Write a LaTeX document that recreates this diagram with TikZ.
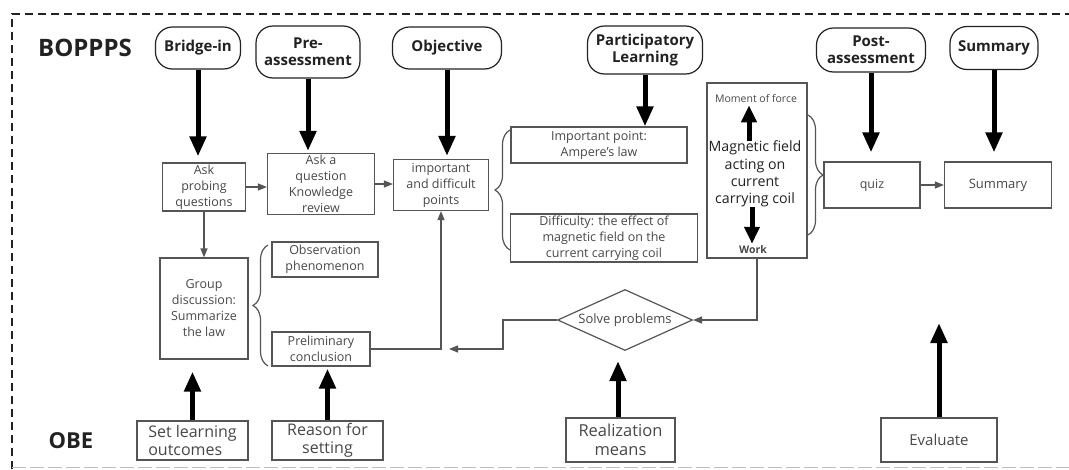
\documentclass[tikz,border=0pt]{standalone}
\usepackage{fontspec}
\setmainfont{Open Sans}
\usetikzlibrary{arrows.meta,shapes.geometric,decorations.pathreplacing,calc}
\definecolor{linegray}{HTML}{555555}
\definecolor{textgray}{HTML}{484848}
\definecolor{hdrtext}{HTML}{222222}
\begin{document}
\begin{tikzpicture}[x=1pt,y=-1pt,
  hdr/.style={draw=hdrtext, line width=1.2pt, rounded corners=17pt, font=\fontsize{15}{17}\selectfont\bfseries, text=hdrtext, align=center, inner sep=0pt},
  box/.style={draw=linegray, line width=1.2pt, align=center, inner sep=0pt, text=textgray, font=\fontsize{12.5}{16}\selectfont},
  bigbox/.style={box, font=\fontsize{16}{18}\selectfont},
  thk/.style={line width=5pt, -{Triangle[length=20pt,width=16pt]}, black},
  thn/.style={draw=linegray, line width=1.2pt, -{Triangle[length=9pt,width=7pt]}},
  brc/.style={draw=linegray, line width=1.2pt, decorate, decoration={brace, amplitude=15pt}},
  lbl/.style={font=\fontsize{24}{26}\selectfont\bfseries, text=hdrtext, inner sep=0pt}
]
\useasboundingbox (0,0) rectangle (1069,469);
\fill[white] (0,0) rectangle (1069,469);
% dashed frame
\draw[hdrtext, line width=1.3pt, dash pattern=on 8pt off 5pt] (12,469) -- (12,14) -- (1069,14);
\draw[black!25, line width=1pt, dash pattern=on 14pt off 4pt] (12,467) -- (1069,467);

% labels
\node[lbl] (bopp) at (85,48) {BOPPPS};
\node[lbl, font=\fontsize{22}{24}\selectfont\bfseries] (obe) at (71,441) {OBE};

% header nodes
\node[hdr, minimum width=85pt, minimum height=42pt] (hB) at (198,48) {Bridge-in};
\node[hdr, minimum width=104pt, minimum height=52pt] (hP) at (308,52) {Pre-\\assessment};
\node[hdr, minimum width=109pt, minimum height=42pt] (hO) at (447,48) {Objective};
\node[hdr, minimum width=115pt, minimum height=48pt] (hL) at (645,50) {Participatory\\Learning};
\node[hdr, minimum width=109pt, minimum height=44pt] (hPo) at (871,50) {Post-\\assessment};
\node[hdr, minimum width=88pt, minimum height=43pt] (hS) at (994,48) {Summary};

% process boxes
\node[box, minimum width=83pt, minimum height=48pt] (probe) at (204,187) {Ask\\probing\\questions};
\node[box, minimum width=107pt, minimum height=61pt] (ask) at (321,184) {Ask a\\question\\Knowledge\\review};
\node[box, minimum width=95pt, minimum height=51pt] (impd) at (441,185) {important\\and difficult\\points};
\node[box, minimum width=176pt, minimum height=36pt] (imp) at (599,145) {Important point:\\Ampere's law};
\node[box, minimum width=187pt, minimum height=48pt] (diff) at (604,238) {Difficulty: the effect of\\magnetic field on the\\current carrying coil};
\node[box, minimum width=100pt, minimum height=175pt] (big) at (757,170.5) {};
\node[text=textgray, inner sep=0pt, font=\fontsize{10.5}{12}\selectfont] (moment) at (756,99) {Moment of force};
\node[text=hdrtext, inner sep=0pt, align=center, font=\fontsize{14.2}{17.3}\selectfont] (mag) at (755,174) {Magnetic field\\acting on\\current\\carrying coil};
\node[text=textgray, inner sep=0pt, font=\fontsize{10.5}{12}\selectfont\bfseries] (work) at (753,250) {Work};
\node[box, minimum width=96pt, minimum height=46pt] (quiz) at (872,185) {quiz};
\node[box, minimum width=107pt, minimum height=46pt, font=\fontsize{13}{16}\selectfont] (summ) at (998,185) {Summary};
\node[box, minimum width=88pt, minimum height=101pt] (group) at (204,308.5) {Group\\discussion:\\Summarize\\the law};
\node[box, minimum width=106pt, minimum height=35pt] (obs) at (325,259.5) {Observation\\phenomenon};
\node[box, minimum width=98pt, minimum height=34pt] (prelim) at (321,349) {Preliminary\\conclusion};
\node[diamond, draw=linegray, line width=1.2pt, minimum width=135pt, minimum height=61pt, inner sep=0pt] (solve) at (625,320) {};
\node[text=textgray, inner sep=0pt, font=\fontsize{13}{15}\selectfont] (solvet) at (625,320) {Solve problems};
\node[bigbox, minimum width=109pt, minimum height=44pt, font=\fontsize{16.5}{19}\selectfont] (real) at (620.5,440) {Realization\\means};
\node[bigbox, minimum width=111pt, minimum height=39pt, align=left] (setlo) at (192.5,440.5) {Set learning\\outcomes};
\node[bigbox, minimum width=111pt, minimum height=39pt] (reason) at (327.5,440.5) {Reason for\\setting};
\node[bigbox, minimum width=116pt, minimum height=44pt, font=\fontsize{15}{18}\selectfont] (eval) at (939,440) {Evaluate};
\coordinate (evalend) at (939,323);
\coordinate (leftend) at (449,349);

% thick arrows from headers
\draw[thk, shorten >=6pt] (hB.south) -- (hB.south |- probe.north);
\draw[thk, shorten >=2pt] (hP.south) -- (hP.south |- ask.north);
\draw[thk, shorten >=3pt] (hO.south) -- (hO.south |- impd.north);
\draw[thk] (hL.south) -- (hL.south |- imp.north);
\draw[thk, shorten >=9pt] (hPo.south) -- (hPo.south |- quiz.north);
\draw[thk, shorten >=9pt] (hS.south) -- (hS.south |- summ.north);

% thick arrows from OBE row
\draw[thk, shorten >=12pt] (setlo.north) -- (setlo.north |- group.south);
\draw[thk, shorten >=2pt] (reason.north) -- (reason.north |- prelim.south);
\draw[thk, shorten >=10pt] ([xshift=-2.5pt]real.north) -- ([xshift=-2.5pt]real.north |- solve.south);
\draw[thk] (eval.north) -- (evalend);

% arrows inside big box
\draw[thk, -{Triangle[length=17pt,width=15pt]}, shorten >=2pt] ([xshift=-6pt]mag.north) -- ([xshift=-6pt]mag.north |- moment.south);
\draw[thk, -{Triangle[length=17pt,width=15pt]}, shorten >=2pt] ([xshift=-3pt]mag.south) -- ([xshift=-3pt]mag.south |- work.north);

% thin connectors
\draw[thn] (probe.east) -- (probe.east -| ask.west);
\draw[thn] (ask.east) -- (ask.east -| impd.west);
\draw[thn] (probe.south) -- (group.north);
\draw[thn] (prelim.east) -| (impd.south);
\draw[thn] (big.south) |- (solve.east);
\draw[thn] (solve.west) -- ++(-54,0) |- (leftend);
\draw[thn] (quiz.east) -- (summ.west);

% braces
\draw[brc] (268,366) -- (268,245);
\draw[brc] (510,250) -- (510,130);
\draw[brc] (808,115) -- (808,235);
\end{tikzpicture}
\end{document}
